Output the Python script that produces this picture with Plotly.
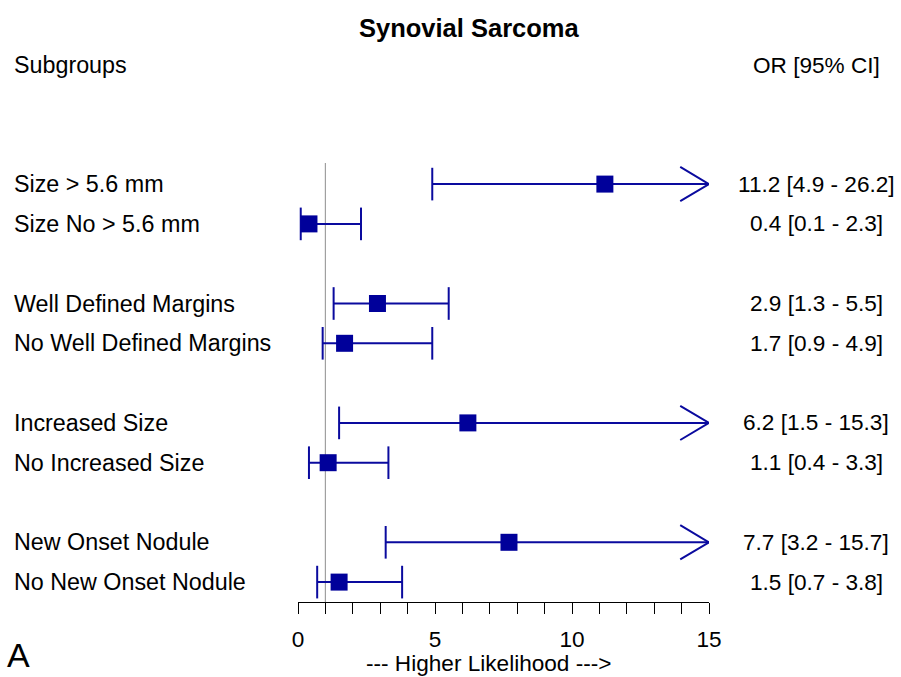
import plotly.graph_objects as go

title = "Synovial Sarcoma"
subgroups = ["Size > 5.6 mm", "Size No > 5.6 mm",
             "Well Defined Margins", "No Well Defined Margins",
             "Increased Size", "No Increased Size",
             "New Onset Nodule", "No New Onset Nodule"]
odds_ratio = [11.2, 0.4, 2.9, 1.7, 6.2, 1.1, 7.7, 1.5]
ci_low = [4.9, 0.1, 1.3, 0.9, 1.5, 0.4, 3.2, 0.7]
ci_high = [26.2, 2.3, 5.5, 4.9, 15.3, 3.3, 15.7, 3.8]
row_pos = [0, 1, 3, 4, 6, 7, 9, 10]
x_ticks = list(range(0, 16))
x_tick_labels = [str(v) if v % 5 == 0 else "" for v in x_ticks]
ref_value = 1
x_max = 15

BLUE = "#0A0A9E"
FONT = "Liberation Sans, Arial, sans-serif"
W, H = 901, 677
px_left, px_right = 298, 709
px_top, px_bottom = 163, 602
y_top, y_bottom = -0.53, 10.5
cap_h = 0.41
arrow_len = 1.05
arrow_h = 0.43
FS_L = 23.3
FS_R = 22.6

fig = go.Figure()

lx, ly = [], []
for lo, hi, y in zip(ci_low, ci_high, row_pos):
    lx += [lo, min(hi, x_max), None]
    ly += [y, y, None]
fig.add_trace(go.Scatter(x=lx, y=ly, mode="lines", line=dict(color=BLUE, width=2),
                         hoverinfo="skip", showlegend=False))

cx, cy = [], []
for lo, hi, y in zip(ci_low, ci_high, row_pos):
    cx += [lo, lo, None]
    cy += [y - cap_h, y + cap_h, None]
    if hi > x_max:
        cx += [x_max - arrow_len, x_max, x_max - arrow_len, None]
        cy += [y - arrow_h, y, y + arrow_h, None]
    else:
        cx += [hi, hi, None]
        cy += [y - cap_h, y + cap_h, None]
fig.add_trace(go.Scatter(x=cx, y=cy, mode="lines", line=dict(color=BLUE, width=2),
                         hoverinfo="skip", showlegend=False))

fig.add_trace(go.Scatter(x=odds_ratio, y=row_pos, mode="markers",
                         marker=dict(symbol="square", size=17, color="#00009A",
                                     line=dict(width=0)),
                         showlegend=False))

fig.add_shape(type="line", xref="x", yref="y", x0=ref_value, x1=ref_value,
              y0=y_top, y1=y_bottom, line=dict(color="#A0A0A0", width=1.2), layer="below")

ann = []
for name, o, lo, hi, y in zip(subgroups, odds_ratio, ci_low, ci_high, row_pos):
    ann.append(dict(x=12 / W, xref="paper", y=y, yref="y", text=name, showarrow=False,
                    xanchor="left", yanchor="middle", font=dict(size=FS_L, color="black")))
    ann.append(dict(x=816 / W, xref="paper", y=y, yref="y",
                    text=f"{o:.1f} [{lo:.1f} - {hi:.1f}]", showarrow=False,
                    xanchor="center", yanchor="middle", font=dict(size=FS_R, color="black")))

ann.append(dict(x=469 / W, xref="paper", y=(H - 28) / H, yref="paper", text="<b>" + title + "</b>",
                showarrow=False, xanchor="center", yanchor="middle",
                font=dict(size=25.5, color="black")))
ann.append(dict(x=12 / W, xref="paper", y=(H - 65) / H, yref="paper", text="Subgroups",
                showarrow=False, xanchor="left", yanchor="middle", font=dict(size=FS_L, color="black")))
ann.append(dict(x=816 / W, xref="paper", y=(H - 65) / H, yref="paper", text="OR [95% CI]",
                showarrow=False, xanchor="center", yanchor="middle", font=dict(size=FS_R, color="black")))
ann.append(dict(x=488 / W, xref="paper", y=(H - 663) / H, yref="paper",
                text="--- Higher Likelihood --->", showarrow=False, xanchor="center",
                yanchor="middle", font=dict(size=FS_R, color="black")))
ann.append(dict(x=5 / W, xref="paper", y=(H - 655) / H, yref="paper", text="A",
                showarrow=False, xanchor="left", yanchor="middle", font=dict(size=34, color="black")))

fig.update_layout(
    width=W, height=H,
    margin=dict(l=0, r=0, t=0, b=0, pad=0, autoexpand=False),
    paper_bgcolor="white", plot_bgcolor="white",
    font=dict(family=FONT, color="black"),
    annotations=ann,
    xaxis=dict(domain=[px_left / W, px_right / W], range=[0, x_max], automargin=False,
               tickvals=x_ticks, ticktext=x_tick_labels, ticks="outside", ticklen=11,
               tickwidth=1.2, tickcolor="black", showline=True, linecolor="black", linewidth=1.2,
               showgrid=False, zeroline=False, tickfont=dict(size=FS_R, color="black"),
               ticklabelstandoff=6, fixedrange=True),
    yaxis=dict(domain=[(H - px_bottom) / H, (H - px_top) / H], range=[y_bottom, y_top],
               automargin=False,
               visible=False, showgrid=False, zeroline=False, fixedrange=True),
)

fig.write_html("out.html",
               post_script="document.body.style.margin='0';"
                           "var d=document.getElementById('{plot_id}');"
                           "d.style.position='fixed';d.style.left='0px';d.style.top='0px';")
